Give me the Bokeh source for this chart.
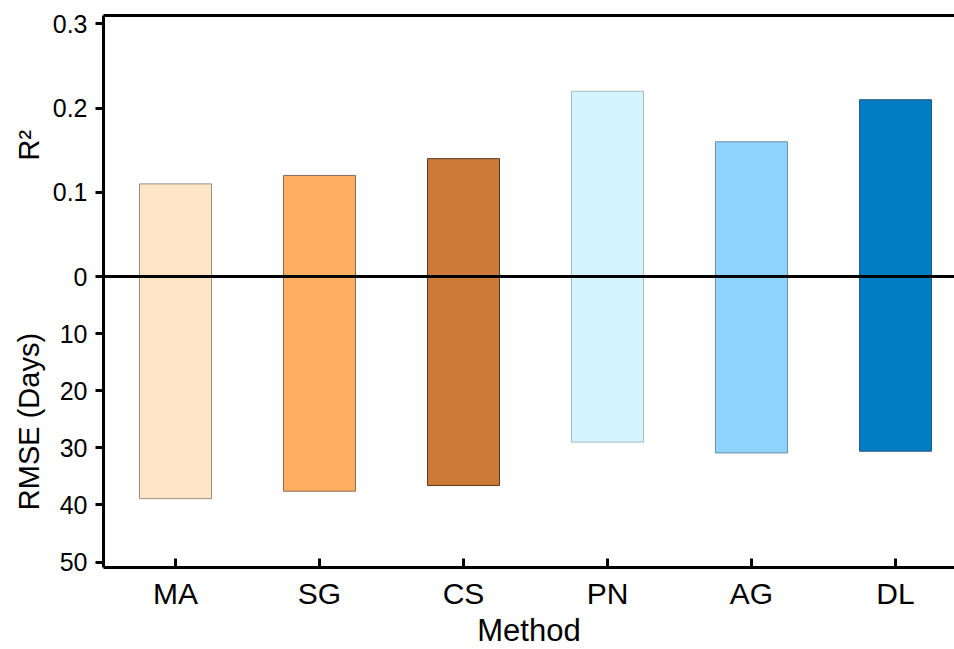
import math
from bokeh.plotting import figure
from bokeh.layouts import row
from bokeh.models import (Range1d, LinearAxis, FixedTicker, Span,
                          ColumnDataSource)
from bokeh.core.properties import value
from bokeh.embed import file_html
from bokeh.resources import INLINE

# ---- data ----
methods = ["MA", "SG", "CS", "PN", "AG", "DL"]
r2 = [0.11, 0.12, 0.14, 0.22, 0.16, 0.21]
rmse = [38.9, 37.6, 36.6, 29.0, 30.9, 30.6]
colors = ["#FFE5C5", "#FFAE62", "#CD7A38", "#D4F4FF", "#8ED4FF", "#007CC3"]
edge_colors = ["#9A8F85", "#8A6A55", "#5A3A20", "#A9B9C0", "#6A8FA8", "#2A5A80"]
r2_ticks = [0, 0.1, 0.2, 0.3]
rmse_ticks = [10, 20, 30, 40, 50]

# ---- layout constants ----
FONT = "Liberation Sans"
R2_TOP = 0.31
RMSE_BOTTOM = 50.96
TOP_PX = 261
BOTTOM_PX = 291
FRAME_H = TOP_PX + BOTTOM_PX
TITLE_W = 48
k = R2_TOP * BOTTOM_PX / TOP_PX / RMSE_BOTTOM   # R2 units per RMSE unit

y_r2 = Range1d(-R2_TOP * BOTTOM_PX / TOP_PX, R2_TOP)
y_rmse = Range1d(RMSE_BOTTOM, -RMSE_BOTTOM * TOP_PX / BOTTOM_PX)

xs = list(range(len(methods)))
src = ColumnDataSource(dict(x=xs, r2=r2, rmse=rmse, color=colors, edge=edge_colors))

p = figure(frame_width=851, frame_height=FRAME_H,
           output_backend="svg", toolbar_location=None,
           x_range=Range1d(-0.5, -0.5 + 851 / 144),
           y_range=y_r2,
           min_border_left=103 - TITLE_W, min_border_right=0,
           min_border_top=15, min_border_bottom=80)
p.extra_y_ranges = {"rmse": y_rmse}
p.outline_line_color = None
p.xgrid.visible = False
p.ygrid.visible = False

p.vbar(x="x", width=0.5, bottom=0, top="r2", source=src,
       fill_color="color", line_color="edge", line_width=1)
p.vbar(x="x", width=0.5, top=0, bottom="rmse", source=src, y_range_name="rmse",
       fill_color="color", line_color="edge", line_width=1)

p.add_layout(Span(location=0, dimension="width", line_color="black", line_width=3))

# left axis: R2 ticks above zero, RMSE ticks below zero
rmse_pos = [-v * k for v in rmse_ticks]
yax = p.yaxis[0]
yax.ticker = FixedTicker(ticks=r2_ticks + rmse_pos)
overrides = {t: ("0" if t == 0 else f"{t:.1f}") for t in r2_ticks}
for v, t in zip(rmse_ticks, rmse_pos):
    overrides[t] = str(v)
yax.major_label_overrides = overrides
yax.minor_tick_line_color = None
yax.major_tick_out = 8
yax.major_tick_in = 0
yax.major_tick_line_width = 3
yax.axis_line_width = 3
yax.major_label_standoff = 8
yax.major_label_text_font = FONT
yax.major_label_text_font_size = "25px"
yax.major_label_text_color = "black"

# bottom axis
xax = p.xaxis[0]
xax.ticker = FixedTicker(ticks=xs)
xax.major_label_overrides = {i: m for i, m in zip(xs, methods)}
xax.minor_tick_line_color = None
xax.major_tick_in = 9
xax.major_tick_out = 0
xax.major_tick_line_width = 3
xax.axis_line_width = 3
xax.major_label_standoff = 9
xax.major_label_text_font = FONT
xax.major_label_text_font_size = "30px"
xax.major_label_text_color = "black"
xax.axis_label = "Method"
xax.axis_label_standoff = 0
xax.axis_label_text_font = FONT
xax.axis_label_text_font_size = "31px"
xax.axis_label_text_font_style = "normal"
xax.axis_label_text_color = "black"

# top border
top = LinearAxis(ticker=FixedTicker(ticks=[]), major_label_text_font_size="0px",
                 major_tick_line_color=None, minor_tick_line_color=None,
                 axis_line_width=3)
p.add_layout(top, "above")

# ---- narrow strip on the left that carries the two y titles ----
t = figure(frame_width=TITLE_W, frame_height=FRAME_H,
           output_backend="svg", toolbar_location=None,
           x_range=Range1d(0, TITLE_W), y_range=y_r2,
           x_axis_type=None, y_axis_type=None,
           min_border_left=0, min_border_right=0,
           min_border_top=15, min_border_bottom=80)
t.extra_y_ranges = {"rmse": y_rmse}
t.outline_line_color = None
t.xgrid.visible = False
t.ygrid.visible = False
t.text(x=[28], y=[0.156], text=["R²"], angle=math.pi / 2,
       text_align="center", text_baseline="middle",
       text_font=value(FONT), text_font_size="29px", text_color="black")
t.text(x=[28], y=[24.7], text=["RMSE  (Days)"], angle=math.pi / 2,
       y_range_name="rmse", text_align="center", text_baseline="middle",
       text_font=value(FONT), text_font_size="29px", text_color="black")

layout = row(t, p, spacing=0)
open("out.html", "w").write(file_html(layout, INLINE))
